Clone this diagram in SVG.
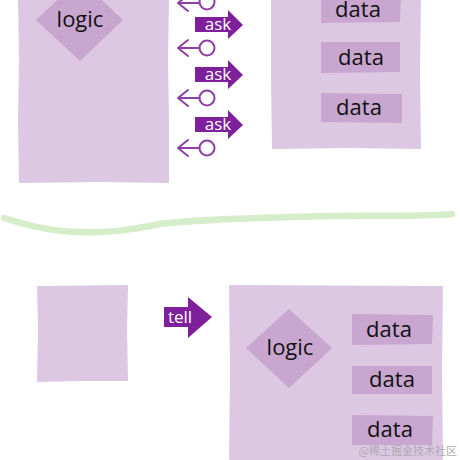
<svg xmlns="http://www.w3.org/2000/svg" width="460" height="460" viewBox="0 0 460 460">
<style>
.box{fill:#dcc8e2}
.inner{fill:#c9a6cf}
.lbl{font-family:"Open Sans","Noto Sans",sans-serif;font-size:22px;fill:#111;text-anchor:middle}
.arrow{fill:#7e1f9c}
.atxt{font-family:"Open Sans","Noto Sans",sans-serif;font-size:17px;fill:#fff;text-anchor:middle}
.ret{fill:none;stroke:#8e3fa6;stroke-width:2;stroke-linecap:round;stroke-linejoin:round}
</style>
<rect width="460" height="460" fill="#fff"/>

<g id="top-caller">
<path class="box" d="M18,-2 L169,-2 L168,60 L169,120 L169,183 L100,182 L19,183 L18,120 L19,60 Z"/>
<path class="inner" d="M80,-21 L123,20 L80,61 L36,20 Z"/>
<text class="lbl" x="80" y="27">logic</text>
</g>

<g id="top-callee">
<path class="box" d="M271,-2 L421,-2 L420,70 L421,149 L350,148 L272,149 L271,80 Z"/>
<g id="top-data1"><path class="inner" d="M321,-8 L401,-8 L400,22 L321,23 Z"/><text class="lbl" x="358" y="17">data</text></g>
<g id="top-data2"><path class="inner" d="M321,42 L400,42 L400,72 L321,73 Z"/><text class="lbl" x="361" y="65">data</text></g>
<g id="top-data3"><path class="inner" d="M321,93 L402,94 L402,123 L321,122 Z"/><text class="lbl" x="359" y="115">data</text></g>
</g>

<g id="connectors">
<g id="ask1"><path class="arrow" d="M195,17 L228,17 L228,10 L243,25 L228,39 L228,32 L195,32 Z"/><text class="atxt" x="218" y="30">ask</text></g>
<g id="ask2"><path class="arrow" d="M195,67 L228,67 L228,60 L243,75 L228,89 L228,82 L195,82 Z"/><text class="atxt" x="218" y="80">ask</text></g>
<g id="ask3"><path class="arrow" d="M195,117 L228,117 L228,110 L243,125 L228,139 L228,132 L195,132 Z"/><text class="atxt" x="218" y="130">ask</text></g>
<g id="ret0" class="ret"><circle cx="207" cy="2" r="7.5"/><path d="M199.5,3 L178,3 M188,-5 L178,3 L188,11"/></g>
<g id="ret1" class="ret"><circle cx="207" cy="48" r="7.5"/><path d="M199.5,48 L178,48 M188,40 L178,48 L188,56"/></g>
<g id="ret2" class="ret"><circle cx="207" cy="98" r="7.5"/><path d="M199.5,98 L178,98 M188,90 L178,98 L188,106"/></g>
<g id="ret3" class="ret"><circle cx="207" cy="148" r="7.5"/><path d="M199.5,148 L178,148 M188,140 L178,148 L188,156"/></g>
<g id="tell"><path class="arrow" d="M164,307 L188,307 L188,297 L212,317 L188,338 L188,327 L164,327 Z"/><text class="atxt" x="180" y="323">tell</text></g>
</g>

<path id="divider" d="M4,218 C25,224 50,232 80,232 C110,233 130,230 160,224 C200,219 260,218 330,216 C380,215 420,217 452,214" fill="none" stroke="#d6edc9" stroke-width="6.5" stroke-linecap="round"/>

<g id="bottom-caller">
<path class="box" d="M37,286 L128,285 L127,330 L128,381 L80,381 L37,382 L38,330 Z"/>
</g>

<g id="bottom-callee">
<path class="box" d="M229,285 L443,286 L442,370 L443,462 L229,462 L230,370 Z"/>
<path class="inner" d="M289,309 L332,348 L289,388 L246,348 Z"/>
<text class="lbl" x="290" y="355">logic</text>
<g id="bot-data1"><path class="inner" d="M352,314 L433,315 L432,344 L352,345 Z"/><text class="lbl" x="389" y="337">data</text></g>
<g id="bot-data2"><path class="inner" d="M352,366 L432,366 L432,394 L352,394 Z"/><text class="lbl" x="392" y="387">data</text></g>
<g id="bot-data3"><path class="inner" d="M352,415 L433,416 L432,445 L352,445 Z"/><text class="lbl" x="390" y="437">data</text></g>
</g>

<text x="457" y="455" text-anchor="end" font-family="'Noto Sans CJK SC',sans-serif" font-size="11" fill="#b0a8b4">@稀土掘金技术社区</text>
</svg>
